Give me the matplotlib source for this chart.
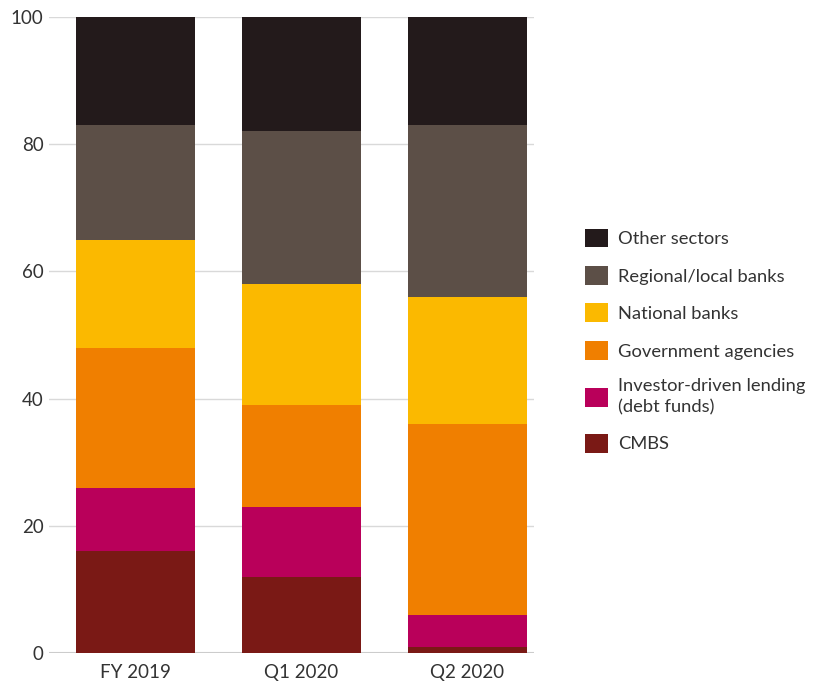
import matplotlib
matplotlib.use("Agg")
import matplotlib.pyplot as plt

plt.rcParams['font.family'] = ['Lato', 'DejaVu Sans']

periods = ['FY 2019', 'Q1 2020', 'Q2 2020']
sectors = ['CMBS', 'Investor-driven lending\n(debt funds)', 'Government agencies',
           'National banks', 'Regional/local banks', 'Other sectors']
cmbs = [16, 12, 1]
investor = [10, 11, 5]
government = [22, 16, 30]
national = [17, 19, 20]
regional = [18, 24, 27]
other = [17, 18, 17]
colors = ['#7a1915', '#b9005a', '#f07f00', '#fbb900', '#5c4f47', '#231a1b']

series = [cmbs, investor, government, national, regional, other]

fig = plt.figure(figsize=(8.24, 6.87), dpi=100)
ax = fig.add_axes([49/824, 1-653/687, (534-49)/824, 636/687])

x = list(range(len(periods)))
bottom = [0, 0, 0]
handles = []
for vals, col, lab in zip(series, colors, sectors):
    h = ax.bar(x, vals, width=0.72, bottom=bottom, color=col, label=lab, zorder=3)
    handles.append(h)
    bottom = [b + v for b, v in zip(bottom, vals)]

ax.set_xlim(-0.52, 2.4)
ax.set_ylim(0, 100)
ax.set_yticks([0, 20, 40, 60, 80, 100])
ax.yaxis.grid(True, color='#d9d9d9', linewidth=1, zorder=0)
ax.set_xticks(x)
ax.set_xticklabels(periods)
ax.tick_params(axis='both', length=0, labelsize=13.5, colors='#333333')
ax.tick_params(axis='x', pad=8)
ax.tick_params(axis='y', pad=4)
for s in ax.spines.values():
    s.set_visible(False)
ax.axhline(0, color='#cccccc', linewidth=1.5, zorder=2)

leg = fig.legend(handles[::-1], sectors[::-1], loc='upper left',
                 bbox_to_anchor=(568/824, 1-212/687), frameon=False,
                 fontsize=13.2, handlelength=1.3, handleheight=1.2,
                 handletextpad=0.55, labelspacing=1.02)
for t in leg.get_texts():
    t.set_color('#333333')
    t.set_linespacing(1.35)

fig.savefig('out.png', dpi=100)
